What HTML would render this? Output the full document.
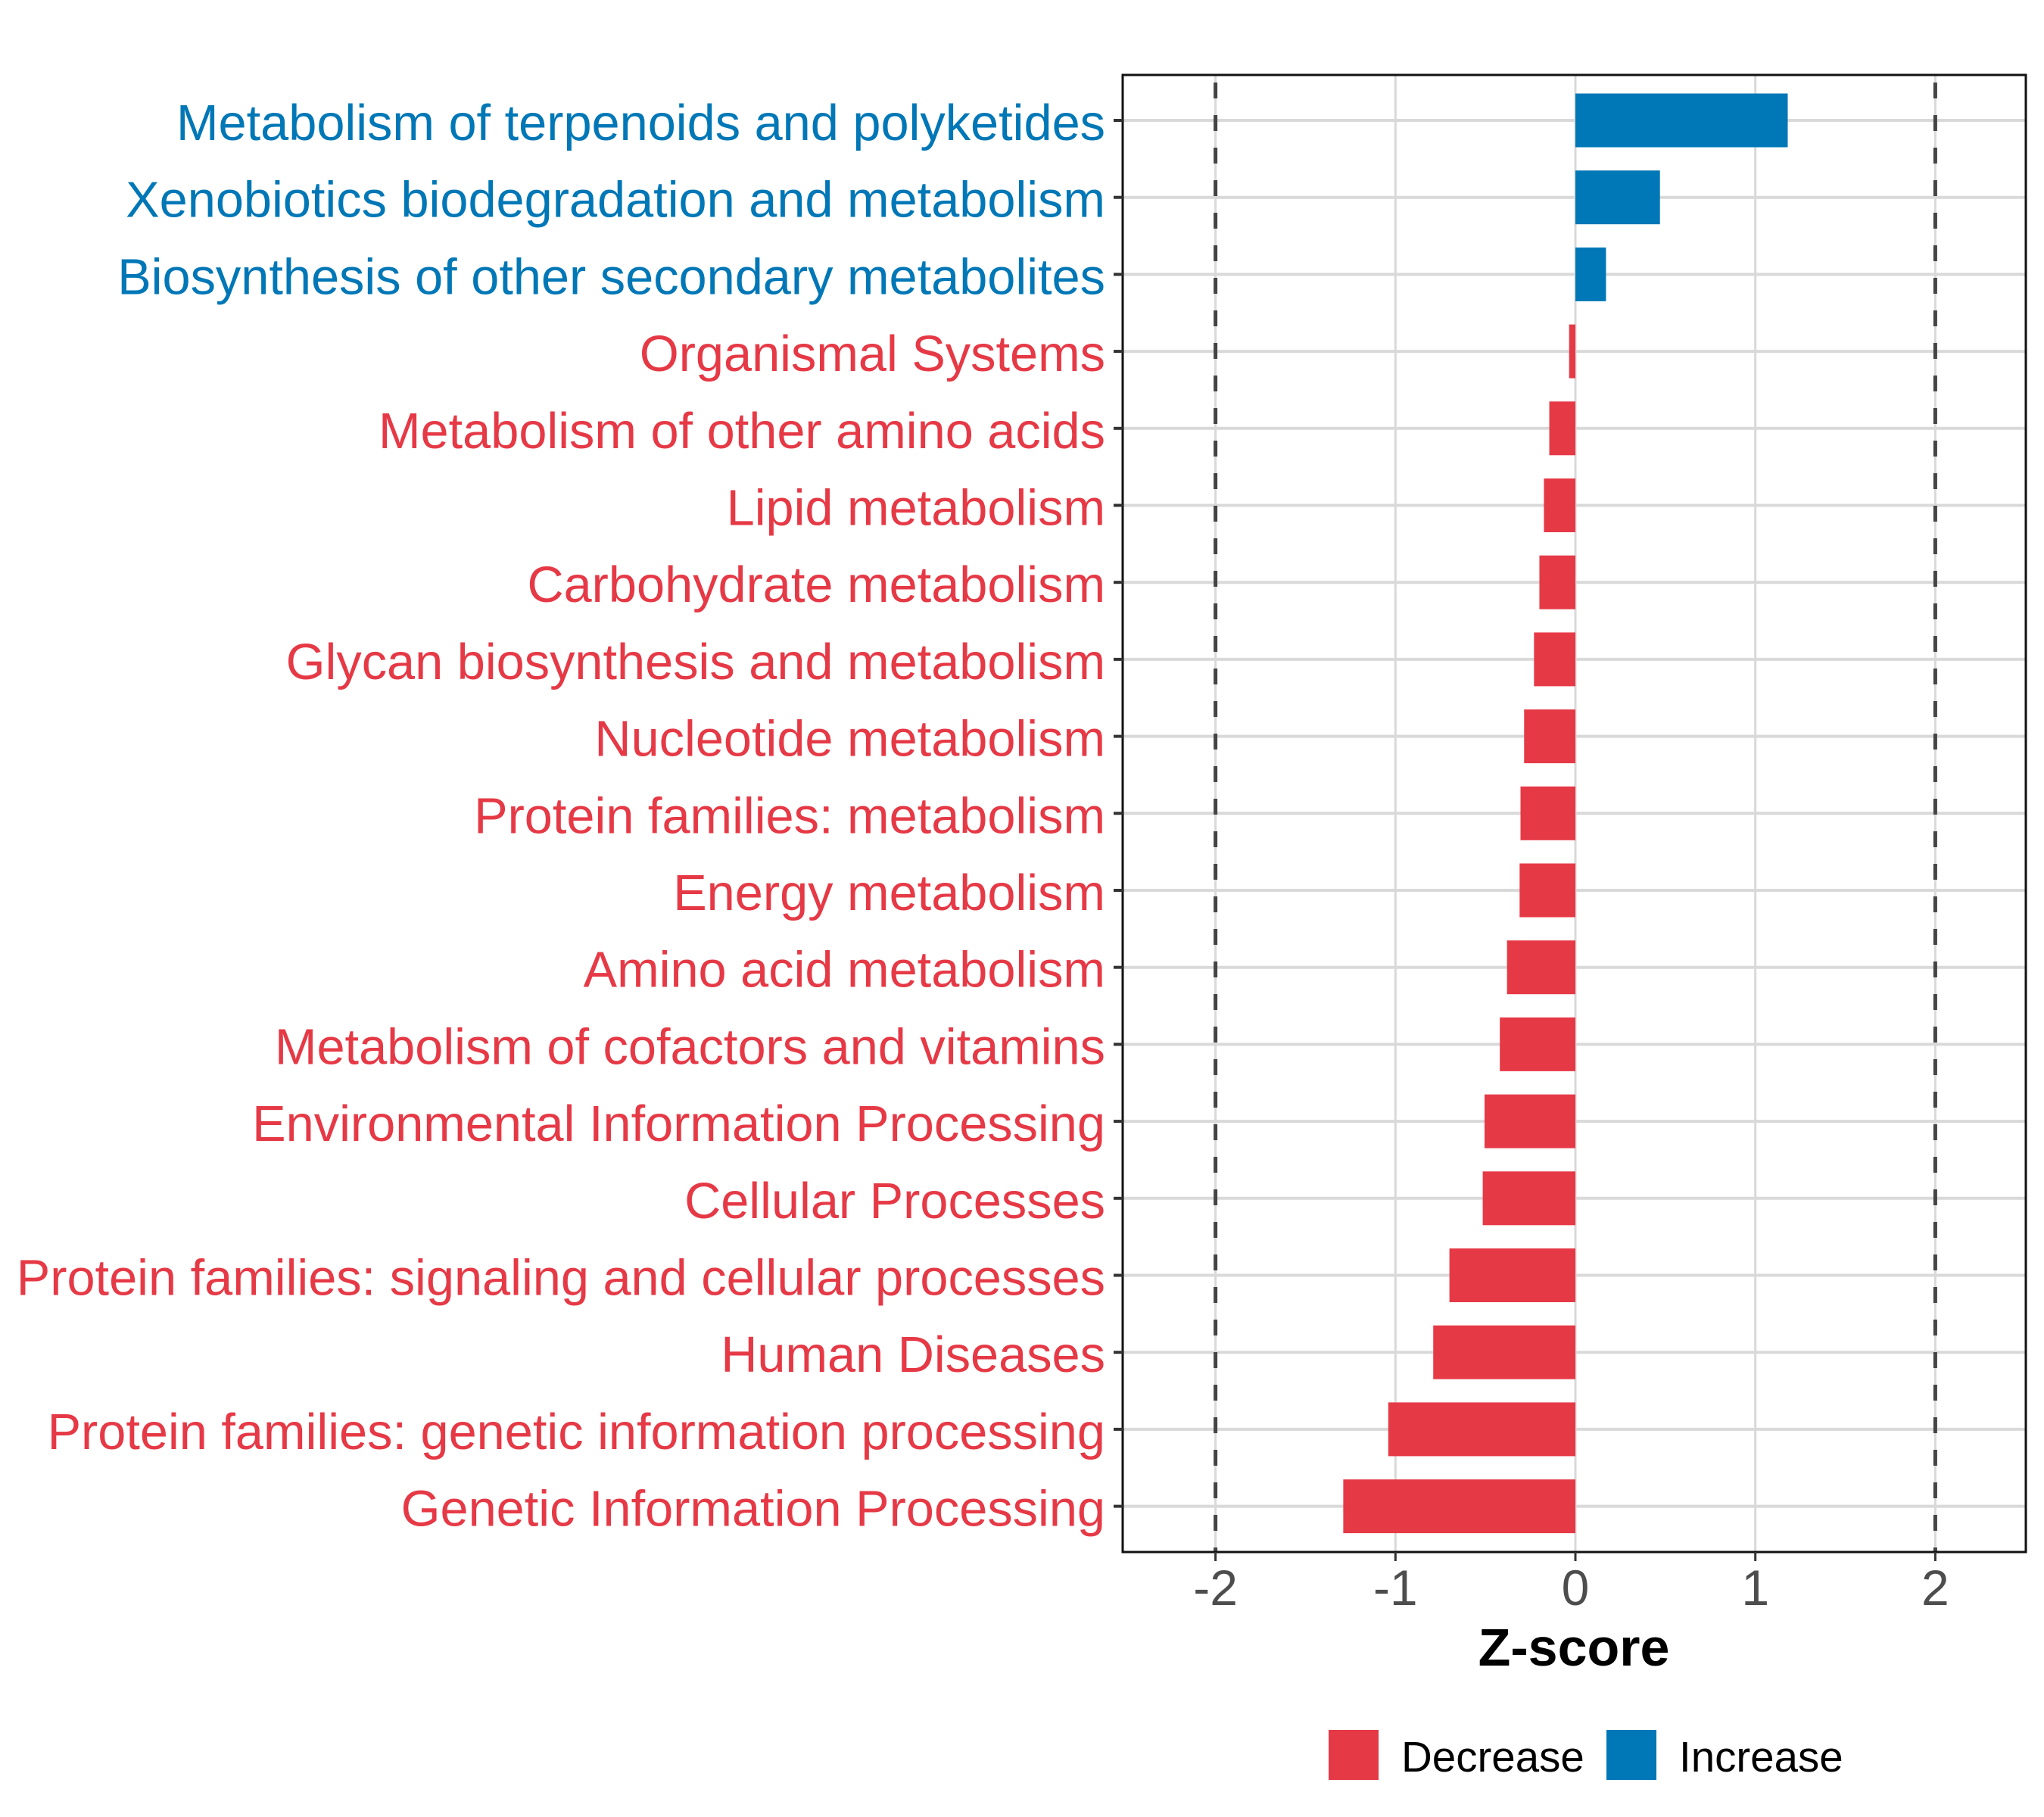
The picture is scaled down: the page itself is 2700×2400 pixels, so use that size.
<!DOCTYPE html>
<html><head><meta charset="utf-8"><style>
html,body{margin:0;padding:0;background:#fff;}
svg{display:block;font-family:"Liberation Sans",Arial,sans-serif;}
</style></head><body>
<svg id="chart" width="2700" height="2400" viewBox="0 0 2700 2400" xmlns="http://www.w3.org/2000/svg">
<rect x="0" y="0" width="2700" height="2400" fill="#fff"/>
<g id="grid"></g>
<g id="bars"></g>
<g id="refs"></g>
<rect x="1483" y="99" width="1193" height="1951" fill="none" stroke="#111" stroke-width="3"/>
<g id="ylabels"></g>
<g id="xaxis"></g>
<text x="2079" y="2200" text-anchor="middle" font-size="70" font-weight="bold" fill="#000">Z-score</text>
<g>
<rect x="1755" y="2285" width="66" height="66" fill="#E63946"/>
<text x="1851" y="2340" font-size="56.5" fill="#000">Decrease</text>
<rect x="2122" y="2285" width="66" height="66" fill="#0077B6"/>
<text x="2218" y="2340" font-size="56.5" fill="#000">Increase</text>
</g>
</svg>
<script>
const categories = ["Metabolism of terpenoids and polyketides","Xenobiotics biodegradation and metabolism","Biosynthesis of other secondary metabolites","Organismal Systems","Metabolism of other amino acids","Lipid metabolism","Carbohydrate metabolism","Glycan biosynthesis and metabolism","Nucleotide metabolism","Protein families: metabolism","Energy metabolism","Amino acid metabolism","Metabolism of cofactors and vitamins","Environmental Information Processing","Cellular Processes","Protein families: signaling and cellular processes","Human Diseases","Protein families: genetic information processing","Genetic Information Processing"];
const zscores = [1.18,0.47,0.17,-0.035,-0.145,-0.175,-0.2,-0.23,-0.285,-0.305,-0.31,-0.38,-0.42,-0.505,-0.515,-0.7,-0.79,-1.04,-1.29];
const xTicks = [-2,-1,0,1,2];
const xTickLabels = ["-2","-1","0","1","2"];
const refLines = [-2,2];

const NS="http://www.w3.org/2000/svg";
const X0=2081, UNIT=237.7, Y0=159, STEP=101.7, BAR_H=71, PANEL_TOP=99, PANEL_BOT=2050, PANEL_L=1483, PANEL_R=2676;
const RED="#E63946", BLUE="#0077B6";
function xs(v){return X0+v*UNIT;}
function ys(i){return Y0+i*STEP;}
function mk(tag,attrs,parent){const e=document.createElementNS(NS,tag);for(const k in attrs)e.setAttribute(k,attrs[k]);parent.appendChild(e);return e;}
const grid=document.getElementById('grid'),bars=document.getElementById('bars'),refs=document.getElementById('refs'),yl=document.getElementById('ylabels'),xa=document.getElementById('xaxis');

xTicks.forEach((t,i)=>{
  const l=mk('line',{x1:xs(t),x2:xs(t),y1:PANEL_TOP,y2:PANEL_BOT,stroke:'#d9d9d9','stroke-width':3},grid);
  
  
  const tk=mk('line',{x1:xs(t),x2:xs(t),y1:PANEL_BOT,y2:PANEL_BOT+12,stroke:'#333','stroke-width':3},xa);
  
  
  const tx=mk('text',{x:xs(t),y:2120,'text-anchor':'middle','font-size':66,fill:'#4d4d4d'},xa);
  tx.textContent=xTickLabels[i];
  
  
});
categories.forEach((c,i)=>{
  const l=mk('line',{x1:PANEL_L,x2:PANEL_R,y1:ys(i),y2:ys(i),stroke:'#d9d9d9','stroke-width':4},grid);
  
  
  const v=zscores[i];
  const col=v>=0?BLUE:RED;
  const b=mk('rect',{x:Math.min(xs(0),xs(v)),y:ys(i)-BAR_H/2,width:Math.abs(xs(v)-xs(0)),height:BAR_H,fill:col},bars);
  
  
  const tk=mk('line',{x1:PANEL_L-12,x2:PANEL_L,y1:ys(i),y2:ys(i),stroke:'#333','stroke-width':4},yl);
  
  
  const t=mk('text',{x:1460,y:ys(i)+26,'text-anchor':'end','font-size':66.7,fill:col},yl);
  t.textContent=c;
  
  
});
refLines.forEach(r=>{
  const l=mk('line',{x1:xs(r),x2:xs(r),y1:PANEL_TOP+10,y2:PANEL_BOT,stroke:'#444','stroke-width':5,'stroke-dasharray':'21 22'},refs);
  
  
});
</script>
</body></html>
